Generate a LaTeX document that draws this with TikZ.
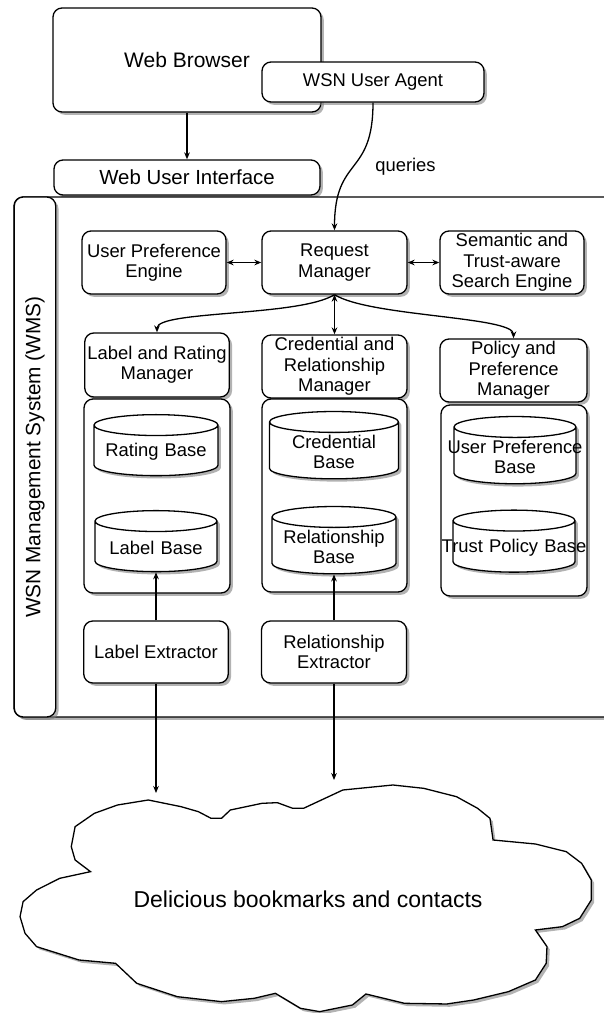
\documentclass[tikz,border=0pt]{standalone}
\usepackage{fontspec}
\setmainfont{Liberation Sans}
\usetikzlibrary{shapes.geometric,shadows,arrows.meta}

\begin{document}
\begin{tikzpicture}[x=0.5pt,y=-0.5pt,line width=0.65pt,
>={Stealth[length=3.5pt,width=2.8pt]},
shd/.style={drop shadow={shadow xshift=1.4pt,shadow yshift=-1.4pt,opacity=.6}},
box/.style={draw,rounded corners=4.5pt,fill=white,shd,align=center,inner sep=1pt,
  font=\fontsize{9.2}{10.2}\selectfont},
holder/.style={draw,rounded corners=4.5pt,fill=white,shd},
base/.style={draw,cylinder,shape border rotate=90,aspect=.18,fill=white,shd,
  text width=56pt,align=center,inner sep=1pt,font=\fontsize{9.2}{10.2}\selectfont}
]
\useasboundingbox (0,0) rectangle (604,1013);

% browser side
\node[box,minimum width=134pt,minimum height=52pt,font=\fontsize{10.5}{12}\selectfont] (browser) at (187,60) {Web Browser};
\node[box,minimum width=111pt,minimum height=20pt] (agent) at (373,82) {WSN User Agent};
\node[box,minimum width=133pt,minimum height=17.5pt,font=\fontsize{10.2}{12}\selectfont] (wui) at (187,177.5) {Web User Interface};

% WMS frame
\draw[holder] (14,197) rectangle (680,717);
\node[holder,rotate=90,minimum width=260pt,minimum height=20.75pt,font=\fontsize{10.4}{12}\selectfont] (wms) at (35,457) {WSN Management System (WMS)};

% managers
\node[box,minimum width=72pt,minimum height=31.5pt] (upe) at (154,262.5) {User Preference\\Engine};
\node[box,minimum width=72.5pt,minimum height=31.5pt] (reqm) at (334.5,262.5) {Request\\Manager};
\node[box,minimum width=72pt,minimum height=31.5pt] (search) at (512,262.5) {Semantic and\\Trust-aware\\Search Engine};
\node[box,minimum width=72.25pt,minimum height=32pt] (lrm) at (157,365) {Label and Rating\\Manager};
\node[box,minimum width=72.5pt,minimum height=31.5pt] (crm) at (334.5,366.5) {Credential and\\Relationship\\Manager};
\node[box,minimum width=73.5pt,minimum height=31.5pt] (ppm) at (513.5,370.5) {Policy and\\Preference\\Manager};

% stores
\node[holder,minimum width=73pt,minimum height=97pt] (lrstore) at (157,496) {};
\node[holder,minimum width=72.5pt,minimum height=96.5pt] (crstore) at (334.5,495.5) {};
\node[holder,minimum width=73pt,minimum height=95.5pt] (ppstore) at (514,500.5) {};
\node[base,minimum width=62pt,minimum height=30.5pt] (ratingb) at (156,452) {Rating Base};
\node[base,minimum width=61pt,minimum height=30.5pt] (labelb) at (156,548) {Label Base};
\node[base,minimum width=64.5pt,minimum height=30pt] (credb) at (334,452) {Credential\\Base};
\node[base,minimum width=62pt,minimum height=31pt] (relb) at (334,547) {Relationship\\Base};
\node[base,minimum width=61pt,minimum height=30.5pt] (upb) at (515,457) {\makebox[56pt]{User Preference}\\Base};
\node[base,minimum width=61pt,minimum height=31pt] (tpb) at (514,548) {\makebox[56pt]{Trust Policy Base}};

% extractors
\node[box,minimum width=72.25pt,minimum height=31pt] (lext) at (156,652) {Label Extractor};
\node[box,minimum width=72.5pt,minimum height=31pt] (rext) at (334,652) {Relationship\\Extractor};

% connectors
\draw[->] (browser) -- (wui);
\draw[->] (agent.south) .. controls +(0,75) and +(0,-75) .. (reqm.north);
\node[font=\fontsize{9.2}{11}\selectfont] (queries) at (405.5,167) {queries};
\draw[<->] (upe) -- (reqm);
\draw[<->] (reqm) -- (search);
\draw[<->] (reqm) -- (crm);
\draw[->] (reqm.south) .. controls +(-35,22) and +(0,-22) .. (lrm.north);
\draw[->] (reqm.south) .. controls +(35,22) and +(0,-22) .. (ppm.north);
\draw[->] (lext.north) -- (labelb.south);
\draw[->] (rext.north) -- (relb.south);
\coordinate (ltip) at (156,793);
\coordinate (rtip) at (334,780);
\draw[->] (lext) -- (ltip);
\draw[->] (rext) -- (rtip);

% cloud
\begin{scope}[shift={(0,700)},xscale=0.3852,yscale=0.3333]
\draw[fill=white,shd] (195,380) -- (245,340) -- (305,315) -- (385,300) -- (470,320) -- (515,335)
  -- (548,355) -- (575,355) -- (598,330) -- (680,310) -- (720,308) -- (760,325) -- (788,325)
  -- (890,270) -- (1020,255) -- (1100,265) -- (1185,290) -- (1240,325) -- (1272,355)
  -- (1280,420) -- (1390,432) -- (1470,455) -- (1510,490) -- (1535,540) -- (1535,600)
  -- (1505,655) -- (1460,680) -- (1390,690) -- (1420,740) -- (1418,790) -- (1390,840)
  -- (1320,875) -- (1230,900) -- (1160,912) -- (1050,910) -- (950,882) -- (915,915)
  -- (830,935) -- (780,925) -- (715,880) -- (660,895) -- (575,905) -- (460,890)
  -- (355,850) -- (300,790) -- (205,780) -- (95,740) -- (65,700) -- (52,650) -- (60,605)
  -- (95,570) -- (155,535) -- (235,515) -- (195,480) -- (185,440) -- cycle;
\end{scope}
\node[font=\fontsize{11.5}{13}\selectfont] (cloud) at (308,899) {Delicious bookmarks and contacts};
\end{tikzpicture}
\end{document}
